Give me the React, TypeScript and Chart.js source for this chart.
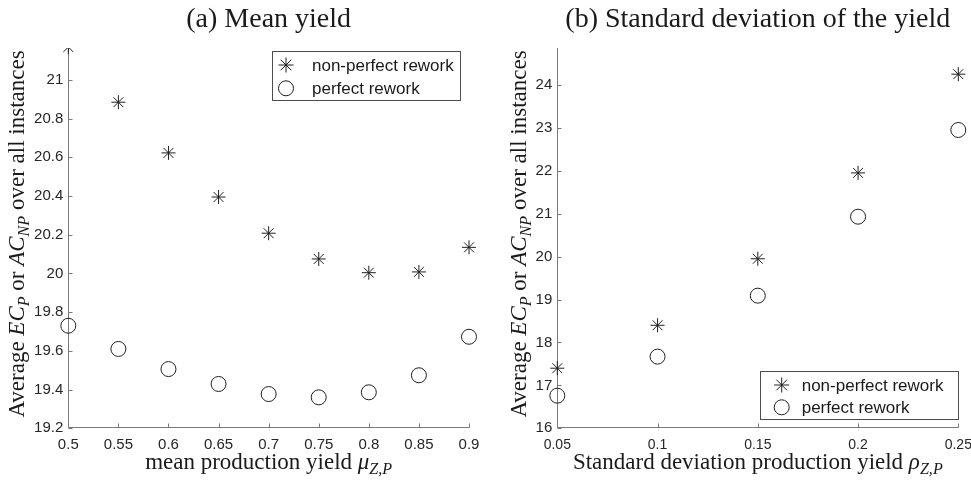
import React, { useEffect, useRef } from 'react';
import { Chart, registerables } from 'chart.js';

Chart.register(...registerables);

// ---------------- data ----------------
const MEAN_YIELD = [0.5, 0.55, 0.6, 0.65, 0.7, 0.75, 0.8, 0.85, 0.9];
const MEAN_NONPERFECT = [21.17, 20.885, 20.623, 20.395, 20.208, 20.075, 20.004, 20.008, 20.135];
const MEAN_PERFECT = [19.73, 19.61, 19.506, 19.429, 19.377, 19.36, 19.386, 19.474, 19.673];

const SD_YIELD = [0.05, 0.1, 0.15, 0.2, 0.25];
const SD_NONPERFECT = [17.4, 18.4, 19.95, 21.95, 24.25];
const SD_PERFECT = [16.76, 17.67, 19.09, 20.93, 22.95];

const MEAN_X_TICKS = [0.5, 0.55, 0.6, 0.65, 0.7, 0.75, 0.8, 0.85, 0.9];
const MEAN_X_LABELS = ['0.5', '0.55', '0.6', '0.65', '0.7', '0.75', '0.8', '0.85', '0.9'];
const MEAN_Y_TICKS = [19.2, 19.4, 19.6, 19.8, 20, 20.2, 20.4, 20.6, 20.8, 21];
const MEAN_Y_LABELS = ['19.2', '19.4', '19.6', '19.8', '20', '20.2', '20.4', '20.6', '20.8', '21'];

const SD_X_TICKS = [0.05, 0.1, 0.15, 0.2, 0.25];
const SD_X_LABELS = ['0.05', '0.1', '0.15', '0.2', '0.25'];
const SD_Y_TICKS = [16, 17, 18, 19, 20, 21, 22, 23, 24];
const SD_Y_LABELS = ['16', '17', '18', '19', '20', '21', '22', '23', '24'];

const SERIES_LABELS = ['non-perfect rework', 'perfect rework'];
const TITLES = ['(a) Mean yield', '(b) Standard deviation of the yield'];

type Seg = { t: string; s: 'r' | 'i' | 'sub' };
const MEAN_X_TITLE: Seg[] = [
  { t: 'mean production yield ', s: 'r' },
  { t: 'μ', s: 'i' },
  { t: 'Z,P', s: 'sub' },
];
const SD_X_TITLE: Seg[] = [
  { t: 'Standard deviation production yield ', s: 'r' },
  { t: 'ρ', s: 'i' },
  { t: 'Z,P', s: 'sub' },
];
const Y_TITLE: Seg[] = [
  { t: 'Average ', s: 'r' },
  { t: 'EC', s: 'i' },
  { t: 'P', s: 'sub' },
  { t: ' or ', s: 'r' },
  { t: 'AC', s: 'i' },
  { t: 'NP', s: 'sub' },
  { t: ' over all instances', s: 'r' },
];

// ---------------- styling ----------------
const SERIF = '"Liberation Serif", "Times New Roman", serif';
const SANS = '"Liberation Sans", Arial, sans-serif';
const AXIS_COLOR = '#7a7a7a';
const TEXT_COLOR = '#1a1a1a';
const MARK_COLOR = '#1f1f1f';
const H = 481;

function segFont(s: string, size: number) {
  if (s === 'r') return `${size}px ${SERIF}`;
  if (s === 'i') return `italic ${size}px ${SERIF}`;
  return `italic ${(size * 0.7).toFixed(1)}px ${SERIF}`;
}

function drawRich(ctx: CanvasRenderingContext2D, segs: Seg[], size: number, cx: number, baseline: number) {
  const parts = segs.map((sg) => {
    const font = segFont(sg.s, size);
    ctx.font = font;
    return { ...sg, font, w: ctx.measureText(sg.t).width };
  });
  const total = parts.reduce((a, p) => a + p.w, 0);
  let x = cx - total / 2;
  ctx.textAlign = 'left';
  ctx.textBaseline = 'alphabetic';
  for (const p of parts) {
    ctx.font = p.font;
    ctx.fillText(p.t, x, baseline + (p.s === 'sub' ? size * 0.22 : 0));
    x += p.w;
  }
}

function drawMarker(ctx: CanvasRenderingContext2D, style: string, x: number, y: number, r: number) {
  ctx.beginPath();
  if (style === 'star') {
    for (let k = 0; k < 4; k++) {
      const ang = (k * Math.PI) / 4;
      const dx = Math.cos(ang) * r;
      const dy = Math.sin(ang) * r;
      ctx.moveTo(x - dx, y - dy);
      ctx.lineTo(x + dx, y + dy);
    }
  } else {
    ctx.arc(x, y, r, 0, Math.PI * 2);
  }
  ctx.stroke();
}

const decorPlugin = {
  id: 'decor',
  beforeDatasetsDraw(chart: any) {
    const { ctx, chartArea: a, scales } = chart;
    const xs = scales.x;
    const ys = scales.y;
    ctx.save();
    ctx.strokeStyle = AXIS_COLOR;
    ctx.lineWidth = 1;
    const L = Math.round(a.left) + 0.5;
    const B = Math.round(a.bottom) - 0.5;
    ctx.beginPath();
    ctx.moveTo(L, Math.round(a.top));
    ctx.lineTo(L, B);
    ctx.lineTo(Math.round(a.right) + 0.5, B);
    for (const t of xs.ticks) {
      const px = Math.round(xs.getPixelForValue(t.value)) + 0.5;
      ctx.moveTo(px, B);
      ctx.lineTo(px, B - 4);
    }
    for (const t of ys.ticks) {
      const py = Math.round(ys.getPixelForValue(t.value)) + 0.5;
      ctx.moveTo(L, py);
      ctx.lineTo(L + 4, py);
    }
    ctx.stroke();
    ctx.restore();
  },
  afterDatasetsDraw(chart: any, _args: any, o: any) {
    const { ctx, chartArea: a } = chart;
    ctx.save();
    ctx.fillStyle = TEXT_COLOR;
    // title
    ctx.font = `${o.titleSize}px ${SERIF}`;
    ctx.textAlign = 'center';
    ctx.textBaseline = 'alphabetic';
    ctx.fillText(o.title, (a.left + a.right) / 2, o.titleY);
    // x title
    drawRich(ctx, o.xTitle, o.axisTitleSize, (a.left + a.right) / 2, o.xTitleY);
    // y title (rotated)
    ctx.save();
    ctx.translate(o.yTitleX, o.yTitleY);
    ctx.rotate(-Math.PI / 2);
    drawRich(ctx, o.yTitle, o.axisTitleSize, 0, 0);
    ctx.restore();
    // legend
    const lg = o.legend;
    ctx.fillStyle = '#ffffff';
    ctx.fillRect(lg.x, lg.y, lg.w, lg.h);
    ctx.strokeStyle = '#4d4d4d';
    ctx.lineWidth = 1;
    ctx.strokeRect(Math.round(lg.x) + 0.5, Math.round(lg.y) + 0.5, Math.round(lg.w), Math.round(lg.h));
    chart.data.datasets.forEach((ds: any, i: number) => {
      const yy = lg.rows[i];
      ctx.strokeStyle = MARK_COLOR;
      ctx.lineWidth = 1;
      drawMarker(ctx, ds.pointStyle, lg.markerX, yy, 7.5);
      ctx.fillStyle = TEXT_COLOR;
      ctx.font = `17px ${SANS}`;
      ctx.textAlign = 'left';
      ctx.textBaseline = 'middle';
      ctx.fillText(ds.label, lg.textX, yy + 1);
    });
    ctx.restore();
  },
};

type PanelCfg = {
  width: number;
  xs: number[];
  np: number[];
  pf: number[];
  xTicks: number[];
  xLabels: string[];
  yTicks: number[];
  yLabels: string[];
  xMin: number;
  xMax: number;
  yMin: number;
  yMax: number;
  yWidth: number;
  padRight: number;
  padTop: number;
  bottomH: number;
  xTickFont: number;
  title: string;
  xTitle: Seg[];
  yTitleX: number;
  legend: any;
};

function makeConfig(p: PanelCfg): any {
  const clip = { left: 20, right: 20, top: 0, bottom: 20 };
  return {
    type: 'scatter',
    data: {
      datasets: [
        {
          label: SERIES_LABELS[0],
          data: p.xs.map((x, i) => ({ x, y: p.np[i] })),
          pointStyle: 'star',
          pointRadius: 7,
          pointHoverRadius: 7,
          pointBorderWidth: 1,
          pointBorderColor: MARK_COLOR,
          pointBackgroundColor: 'rgba(0,0,0,0)',
          borderColor: MARK_COLOR,
          showLine: false,
          clip,
        },
        {
          label: SERIES_LABELS[1],
          data: p.xs.map((x, i) => ({ x, y: p.pf[i] })),
          pointStyle: 'circle',
          pointRadius: 7.5,
          pointHoverRadius: 7.5,
          pointBorderWidth: 1,
          pointBorderColor: MARK_COLOR,
          pointBackgroundColor: 'rgba(0,0,0,0)',
          borderColor: MARK_COLOR,
          showLine: false,
          clip,
        },
      ],
    },
    options: {
      responsive: false,
      devicePixelRatio: 1,
      animation: false,
      events: [],
      layout: { padding: { left: 0, top: p.padTop, right: p.padRight, bottom: 0 } },
      plugins: {
        legend: { display: false },
        tooltip: { enabled: false },
        title: { display: false },
        decor: {
          title: p.title,
          titleSize: 28,
          titleY: 26.5,
          xTitle: p.xTitle,
          yTitle: Y_TITLE,
          axisTitleSize: 23,
          xTitleY: 469,
          yTitleX: p.yTitleX,
          yTitleY: 234,
          legend: p.legend,
        },
      },
      scales: {
        x: {
          type: 'linear',
          min: p.xMin,
          max: p.xMax,
          bounds: 'data',
          grid: { display: false, drawTicks: false },
          border: { display: false },
          ticks: {
            padding: 8,
            autoSkip: false,
            maxRotation: 0,
            color: '#262626',
            font: { family: SANS, size: p.xTickFont },
            callback: (_v: any, i: number) => p.xLabels[i],
          },
          afterBuildTicks: (s: any) => {
            s.ticks = p.xTicks.map((v) => ({ value: v }));
          },
          afterFit: (s: any) => {
            s.height = p.bottomH;
            s.paddingLeft = 0;
            s.paddingRight = 0;
          },
        },
        y: {
          type: 'linear',
          min: p.yMin,
          max: p.yMax,
          bounds: 'data',
          grid: { display: false, drawTicks: false },
          border: { display: false },
          ticks: {
            padding: 5,
            autoSkip: false,
            color: '#262626',
            font: { family: SANS, size: 15 },
            callback: (_v: any, i: number) => p.yLabels[i],
          },
          afterBuildTicks: (s: any) => {
            s.ticks = p.yTicks.map((v) => ({ value: v }));
          },
          afterFit: (s: any) => {
            s.width = p.yWidth;
            s.paddingTop = 0;
            s.paddingBottom = 0;
          },
        },
      },
    },
    plugins: [decorPlugin],
  };
}

const LEFT_PANEL: PanelCfg = {
  width: 490,
  xs: MEAN_YIELD,
  np: MEAN_NONPERFECT,
  pf: MEAN_PERFECT,
  xTicks: MEAN_X_TICKS,
  xLabels: MEAN_X_LABELS,
  yTicks: MEAN_Y_TICKS,
  yLabels: MEAN_Y_LABELS,
  xMin: 0.5,
  xMax: 0.9,
  yMin: 19.2,
  yMax: 21.165,
  yWidth: 68.3,
  padRight: 21,
  padTop: 48,
  bottomH: H - 428.3,
  xTickFont: 15,
  title: TITLES[0],
  xTitle: MEAN_X_TITLE,
  yTitleX: 24,
  legend: { x: 271.7, y: 50.7, w: 188.3, h: 48.6, markerX: 286, textX: 312, rows: [65, 88.3] },
};

const RIGHT_PANEL: PanelCfg = {
  width: 481,
  xs: SD_YIELD,
  np: SD_NONPERFECT,
  pf: SD_PERFECT,
  xTicks: SD_X_TICKS,
  xLabels: SD_X_LABELS,
  yTicks: SD_Y_TICKS,
  yLabels: SD_Y_LABELS,
  xMin: 0.05,
  xMax: 0.25,
  yMin: 16,
  yMax: 24.86,
  yWidth: 67.3,
  padRight: 12.7,
  padTop: 48,
  bottomH: H - 428.3,
  xTickFont: 14,
  title: TITLES[1],
  xTitle: SD_X_TITLE,
  yTitleX: 36,
  legend: { x: 270, y: 370.7, w: 197.7, h: 48.3, markerX: 291.7, textX: 311.7, rows: [385, 407.3] },
};

function Panel({ cfg, left }: { cfg: PanelCfg; left: number }) {
  const ref = useRef<HTMLCanvasElement>(null);
  useEffect(() => {
    const chart = new Chart(ref.current as HTMLCanvasElement, makeConfig(cfg));
    return () => chart.destroy();
  }, [cfg]);
  return (
    <canvas
      ref={ref}
      width={cfg.width}
      height={H}
      style={{ position: 'absolute', left, top: 0, width: cfg.width, height: H }}
    />
  );
}

export default function App() {
  return (
    <div
      style={{
        position: 'fixed',
        left: 0,
        top: 0,
        width: 971,
        height: H,
        background: '#ffffff',
        overflow: 'hidden',
      }}
    >
      <Panel cfg={LEFT_PANEL} left={0} />
      <Panel cfg={RIGHT_PANEL} left={490} />
    </div>
  );
}
